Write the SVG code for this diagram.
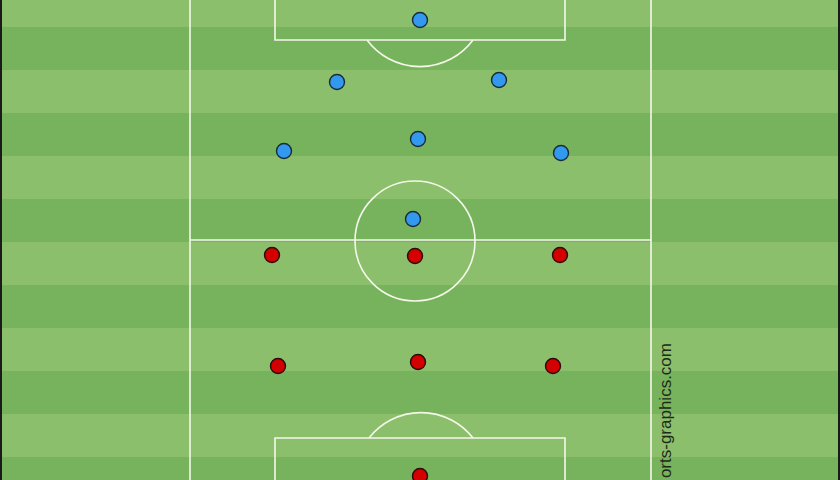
<svg xmlns="http://www.w3.org/2000/svg" width="840" height="480" viewBox="0 0 840 480">
<defs>
<style>
.light{fill:#8bbf6b}
.dark{fill:#77b35d}
.line{fill:none;stroke:#f4f8ea;stroke-width:1.6}
.blue{fill:#3399ee;stroke:#1a2a3a;stroke-width:1.4}
.red{fill:#d40000;stroke:#2a0a0a;stroke-width:1.4}
.credit{font-family:"Liberation Sans",Arial,sans-serif;font-size:17px;fill:#1e2a18}
</style>
</defs>
<g id="pitch">
<rect x="0" y="0" width="840" height="480" class="light"/>
<rect x="0" y="27" width="840" height="43" class="dark"/>
<rect x="0" y="113" width="840" height="43" class="dark"/>
<rect x="0" y="199" width="840" height="43" class="dark"/>
<rect x="0" y="285" width="840" height="43" class="dark"/>
<rect x="0" y="371" width="840" height="43" class="dark"/>
<rect x="0" y="457" width="840" height="23" class="dark"/>
<rect x="0" y="0" width="2" height="480" fill="#1a1a1a"/>
<rect x="838" y="0" width="2" height="480" fill="#1a1a1a"/>
</g>
<g id="markings">
<line class="line" x1="190" y1="0" x2="190" y2="480"/>
<line class="line" x1="651" y1="0" x2="651" y2="480"/>
<line class="line" x1="190" y1="240" x2="651" y2="240"/>
<circle class="line" cx="415" cy="241" r="60"/>
<polyline class="line" points="275,0 275,40 565,40 565,0"/>
<path class="line" d="M367,40 A66,66 0 0 0 473,40"/>
<polyline class="line" points="275,480 275,438 565,438 565,480"/>
<path class="line" d="M369,438 A66,66 0 0 1 473,438"/>
</g>
<g id="connectors"></g>
<g id="blue-team">
<g id="b1"><circle class="blue" cx="420" cy="20" r="7.5"/></g>
<g id="b2"><circle class="blue" cx="337" cy="82" r="7.5"/></g>
<g id="b3"><circle class="blue" cx="499" cy="80" r="7.5"/></g>
<g id="b4"><circle class="blue" cx="284" cy="151" r="7.5"/></g>
<g id="b5"><circle class="blue" cx="418" cy="139" r="7.5"/></g>
<g id="b6"><circle class="blue" cx="561" cy="153" r="7.5"/></g>
<g id="b7"><circle class="blue" cx="413" cy="219" r="7.5"/></g>
</g>
<g id="red-team">
<g id="r1"><circle class="red" cx="272" cy="255" r="7.5"/></g>
<g id="r2"><circle class="red" cx="415" cy="256" r="7.5"/></g>
<g id="r3"><circle class="red" cx="560" cy="255" r="7.5"/></g>
<g id="r4"><circle class="red" cx="278" cy="366" r="7.5"/></g>
<g id="r5"><circle class="red" cx="418" cy="362" r="7.5"/></g>
<g id="r6"><circle class="red" cx="553" cy="366" r="7.5"/></g>
<g id="r7"><circle class="red" cx="420" cy="476" r="7.5"/></g>
</g>
<g id="credit">
<text class="credit" transform="translate(671,343) rotate(-90)" text-anchor="end">orts-graphics.com</text>
</g>
</svg>
